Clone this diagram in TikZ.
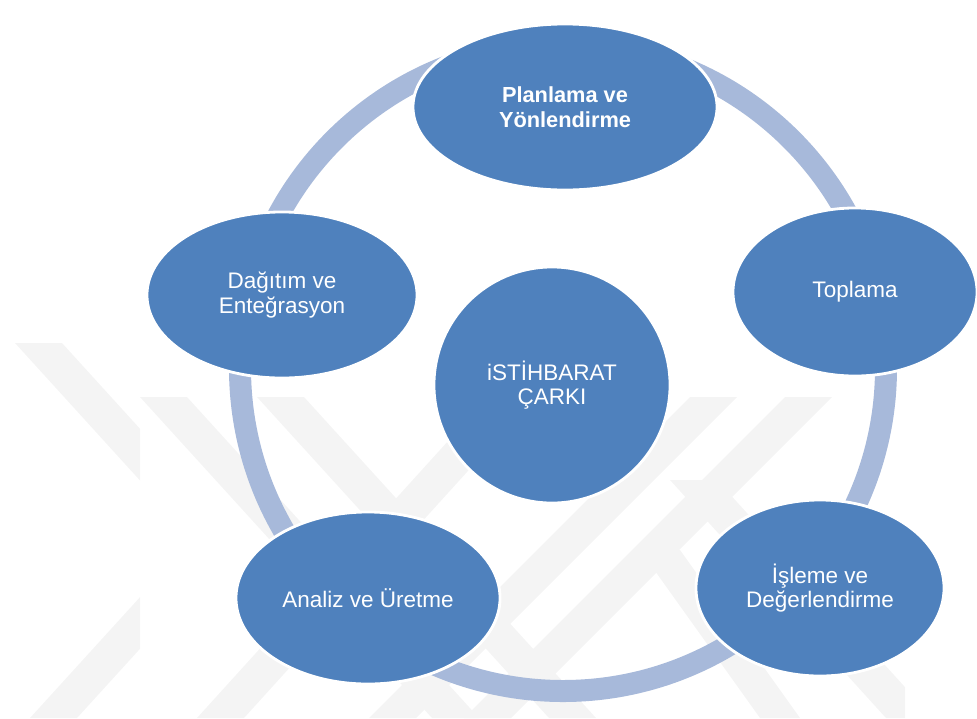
\documentclass[tikz,border=0pt]{standalone}
\usepackage{fontspec}
\setmainfont{Liberation Sans}
\usetikzlibrary{shapes.geometric}
\definecolor{mavi}{RGB}{79,129,189}
\definecolor{halkarengi}{RGB}{167,185,218}
\definecolor{filigranrengi}{RGB}{244,244,244}

\begin{document}
\begin{tikzpicture}[x=0.025cm,y=-0.025cm,
    asama/.style={ellipse,fill=mavi,draw=white,line width=2pt,text=white,
      inner sep=0pt,align=center,font=\fontsize{16}{17.5}\selectfont},
    kalin/.style={font=\fontsize{15.5}{17.5}\selectfont\bfseries},
    filigran/.style={fill=filigranrengi}]
    \useasboundingbox (0,0) rectangle (977,718);

    % filigran
    \begin{scope}
      \clip (0,343) rectangle (140,718);
      \fill[filigran] (15,343) -- (62,343) -- (403,718) -- (356,718) -- cycle;
      \fill[filigran] (30,718) -- (77,718) -- (300,473) -- (253,473) -- cycle;
    \end{scope}
    \begin{scope}
      \clip (140,397) rectangle (905,718);
      \fill[filigran] (140,397) -- (187,397) -- (479,718) -- (432,718) -- cycle;
      \fill[filigran] (257,397) -- (304,397) -- (596,718) -- (549,718) -- cycle;
      \fill[filigran] (488,397) -- (535,397) -- (244,718) -- (197,718) -- cycle;
      \fill[filigran] (690,397) -- (737,397) -- (416,718) -- (369,718) -- cycle;
      \fill[filigran] (785,397) -- (832,397) -- (511,718) -- (464,718) -- cycle;
      \fill[filigran] (640,550) -- (680,550) -- (800,718) -- (760,718) -- cycle;
      \fill[filigran] (670,480) -- (717,480) -- (933,718) -- (886,718) -- cycle;
    \end{scope}

    % halka
    \draw[halkarengi,line width=0.55cm] (563,368) circle (323);

    % asamalar
    \node[asama,kalin,minimum width=7.6cm,minimum height=4.15cm] (planlama) at (565,107) {Planlama ve\\Yönlendirme};
    \node[asama,minimum width=6.1cm,minimum height=4.2cm] (toplama) at (855,292) {Toplama};
    \node[asama,minimum width=6.2cm,minimum height=4.4cm] (isleme) at (820,588) {İşleme ve\\Değerlendirme};
    \node[asama,minimum width=6.6cm,minimum height=4.3cm] (analiz) at (368,598) {Analiz ve Üretme};
    \node[asama,minimum width=6.75cm,minimum height=4.15cm] (dagitim) at (282,295) {Dağıtım ve\\Enteğrasyon};

    % merkez
    \node[asama,circle,minimum size=5.9cm] (cark) at (552,385) {iSTİHBARAT\\ÇARKI};
\end{tikzpicture}
\end{document}
